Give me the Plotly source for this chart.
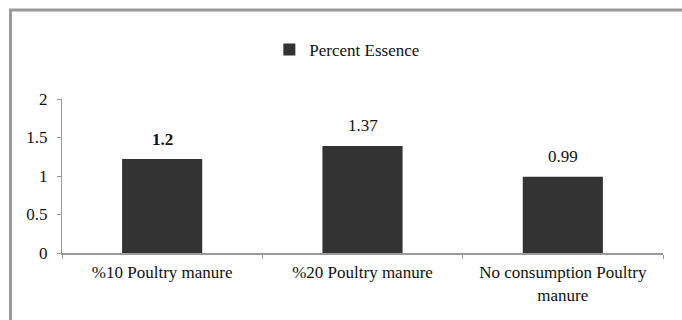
import plotly.graph_objects as go

categories = ["%10 Poultry manure", "%20 Poultry manure", "No consumption Poultry<br>manure"]
values = [1.22, 1.39, 0.99]
value_labels = ["<b>1.2</b>", "1.37", "0.99"]
series_name = "Percent Essence"
y_ticks = [0, 0.5, 1, 1.5, 2]
y_tick_labels = ["0", "0.5", "1", "1.5", "2"]

FONT = "Liberation Serif"
FS = 17
TXT = "#111111"
AXIS_GRAY = "#9a9a9a"
BAR_COLOR = "#333333"

fig = go.Figure()
fig.add_trace(go.Bar(
    x=categories, y=values, name=series_name,
    marker=dict(color=BAR_COLOR, line=dict(width=0)),
    showlegend=True,
))

for c, v, t in zip(categories, values, value_labels):
    fig.add_annotation(x=c, y=v, text=t, showarrow=False, yshift=20,
                       font=dict(family=FONT, size=FS, color=TXT))

# outer chart frame (gray border, partly cut by the image edges)
fig.add_shape(type="rect", xref="paper", yref="paper",
              x0=-0.0857, x1=1.06, y0=-0.6, y1=1.578,
              line=dict(color=AXIS_GRAY, width=3), layer="below")

fig.update_layout(
    width=682, height=320,
    margin=dict(l=62, r=19, t=99, b=67, autoexpand=False),
    paper_bgcolor="white", plot_bgcolor="white",
    font=dict(family=FONT, size=FS, color=TXT),
    bargap=0.6,
    showlegend=True,
    legend=dict(orientation="h", x=0.345, xanchor="left", y=1.318, yanchor="middle",
                font=dict(family=FONT, size=FS, color=TXT),
                itemwidth=30, bgcolor="rgba(0,0,0,0)"),
    xaxis=dict(showline=True, linecolor=AXIS_GRAY, linewidth=2,
               ticks="outside", tickcolor=AXIS_GRAY, ticklen=4,
               ticklabelstandoff=3,
               tickson="boundaries", showgrid=False, automargin=False,
               tickfont=dict(family=FONT, size=FS, color=TXT)),
    yaxis=dict(range=[0, 2], tickvals=y_ticks, ticktext=y_tick_labels,
               showline=True, linecolor=AXIS_GRAY, linewidth=1,
               ticks="outside", tickcolor=AXIS_GRAY, ticklen=4,
               ticklabelstandoff=6,
               showgrid=False, zeroline=False, automargin=False,
               tickfont=dict(family=FONT, size=FS, color=TXT)),
)

fig.write_html("out.html", config={"displayModeBar": False},
               post_script="document.body.style.margin='0px';")
